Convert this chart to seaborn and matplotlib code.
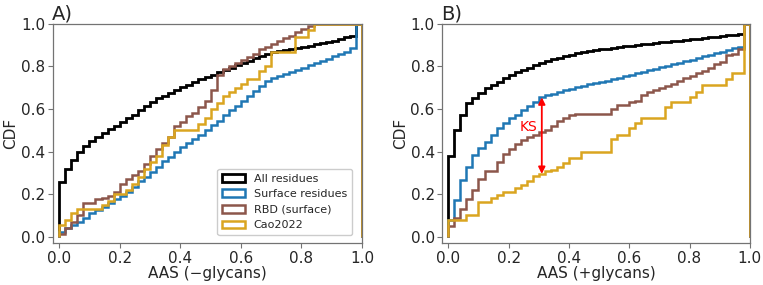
import numpy as np
import matplotlib
matplotlib.use('Agg')
import matplotlib.pyplot as plt
import seaborn as sns

# cumulative fraction at the right edge of each 0.02-wide AAS bin
labels = ['All residues', 'Surface residues', 'RBD (surface)', 'Cao2022']
colors = ['black', '#1f77b4', '#8c564b', '#daa520']

# A) without glycans
a_all = [0.256, 0.318, 0.361, 0.40, 0.426, 0.451, 0.47, 0.486, 0.505, 0.52,
         0.541, 0.557, 0.572, 0.596, 0.614, 0.635, 0.65, 0.663, 0.676, 0.69,
         0.703, 0.715, 0.727, 0.739, 0.75, 0.762, 0.775, 0.785, 0.795, 0.805,
         0.815, 0.825, 0.838, 0.85, 0.86, 0.866, 0.871, 0.876, 0.881, 0.886,
         0.892, 0.898, 0.904, 0.91, 0.916, 0.922, 0.93, 0.937, 0.945, 1.0]
a_surface = [0.02, 0.04, 0.055, 0.07, 0.09, 0.11, 0.125, 0.14, 0.16, 0.175,
             0.19, 0.21, 0.235, 0.26, 0.28, 0.305, 0.33, 0.355, 0.375, 0.40,
             0.42, 0.44, 0.46, 0.48, 0.50, 0.525, 0.545, 0.57, 0.595, 0.615,
             0.64, 0.66, 0.685, 0.71, 0.73, 0.745, 0.755, 0.765, 0.775, 0.785,
             0.795, 0.805, 0.815, 0.825, 0.835, 0.85, 0.86, 0.87, 0.885, 1.0]
a_rbd = [0.015, 0.04, 0.07, 0.10, 0.16, 0.16, 0.175, 0.18, 0.19, 0.21,
         0.25, 0.27, 0.29, 0.31, 0.34, 0.38, 0.41, 0.44, 0.47, 0.52,
         0.54, 0.565, 0.58, 0.61, 0.64, 0.69, 0.76, 0.79, 0.80, 0.815,
         0.83, 0.845, 0.86, 0.88, 0.89, 0.905, 0.92, 0.935, 0.945, 0.96,
         0.975, 0.99, 1.0, 1.0, 1.0, 1.0, 1.0, 1.0, 1.0, 1.0]
a_cao = [0.055, 0.08, 0.11, 0.13, 0.13, 0.13, 0.13, 0.15, 0.17, 0.20,
         0.20, 0.22, 0.25, 0.28, 0.32, 0.35, 0.38, 0.43, 0.47, 0.50,
         0.50, 0.50, 0.50, 0.53, 0.56, 0.60, 0.63, 0.66, 0.68, 0.70,
         0.72, 0.74, 0.74, 0.78, 0.80, 0.87, 0.87, 0.87, 0.87, 0.94,
         0.94, 0.97, 1.0, 1.0, 1.0, 1.0, 1.0, 1.0, 1.0, 1.0]

# B) with glycans
b_all = [0.38, 0.50, 0.572, 0.627, 0.65, 0.677, 0.697, 0.713, 0.729, 0.745,
         0.76, 0.776, 0.784, 0.795, 0.807, 0.818, 0.828, 0.835, 0.842, 0.849,
         0.856, 0.862, 0.867, 0.872, 0.876, 0.88, 0.884, 0.888, 0.892, 0.895,
         0.898, 0.901, 0.904, 0.907, 0.91, 0.913, 0.916, 0.919, 0.922, 0.925,
         0.928, 0.931, 0.934, 0.937, 0.94, 0.943, 0.946, 0.949, 0.952, 1.0]
b_surface = [0.08, 0.172, 0.266, 0.33, 0.384, 0.415, 0.447, 0.478, 0.51, 0.533,
             0.556, 0.572, 0.595, 0.615, 0.635, 0.655, 0.665, 0.672, 0.68, 0.688,
             0.695, 0.702, 0.709, 0.716, 0.722, 0.728, 0.734, 0.741, 0.748, 0.755,
             0.762, 0.769, 0.776, 0.783, 0.79, 0.797, 0.804, 0.811, 0.818, 0.825,
             0.832, 0.84, 0.848, 0.856, 0.863, 0.87, 0.878, 0.886, 0.893, 1.0]
b_rbd = [0.05, 0.086, 0.13, 0.175, 0.22, 0.27, 0.31, 0.31, 0.35, 0.39,
         0.41, 0.435, 0.455, 0.47, 0.48, 0.49, 0.50, 0.52, 0.545, 0.56,
         0.57, 0.575, 0.575, 0.575, 0.575, 0.575, 0.575, 0.60, 0.62, 0.62,
         0.635, 0.64, 0.665, 0.68, 0.69, 0.70, 0.71, 0.72, 0.73, 0.745,
         0.755, 0.77, 0.78, 0.795, 0.81, 0.82, 0.855, 0.86, 0.88, 1.0]
b_cao = [0.078, 0.078, 0.078, 0.10, 0.10, 0.165, 0.165, 0.18, 0.196, 0.21,
         0.21, 0.227, 0.243, 0.26, 0.285, 0.295, 0.31, 0.315, 0.33, 0.345,
         0.37, 0.37, 0.40, 0.40, 0.40, 0.40, 0.40, 0.46, 0.48, 0.48,
         0.51, 0.533, 0.556, 0.556, 0.556, 0.556, 0.61, 0.635, 0.635, 0.635,
         0.658, 0.68, 0.713, 0.713, 0.713, 0.713, 0.74, 0.768, 0.768, 1.0]

panels = [('A)', 'AAS (\u2212glycans)', [a_all, a_surface, a_rbd, a_cao]),
          ('B)', 'AAS (+glycans)', [b_all, b_surface, b_rbd, b_cao])]

edges = np.linspace(0, 1, 51)
centers = (edges[:-1] + edges[1:]) / 2

sns.set_style('ticks')
plt.rcParams['font.family'] = ['DejaVu Sans']

fig = plt.figure(figsize=(7.63, 2.85), dpi=100)
axes = [fig.add_axes([0.0695, 0.147, 0.405, 0.769]),
        fig.add_axes([0.5797, 0.147, 0.403, 0.769])]

for ax, (title, xlabel, series) in zip(axes, panels):
    for cdf, lab, col in zip(series, labels, colors):
        w = np.diff(np.concatenate([[0], cdf]))
        ax.hist(centers, bins=edges, weights=w, cumulative=True, histtype='step',
                color=col, lw=2.0 if col == 'black' else 1.8, label=lab)
    ax.set_xlim(-0.02, 1.0)
    ax.set_ylim(-0.03, 1.0)
    ax.set_xticks(np.arange(0, 1.01, 0.2))
    ax.set_yticks(np.arange(0, 1.01, 0.2))
    ax.tick_params(labelsize=11, color='0.45', length=3.5, pad=2)
    for s in ax.spines.values():
        s.set_color('0.45')
        s.set_linewidth(0.9)
    ax.set_xlabel(xlabel, fontsize=11, labelpad=0)
    ax.set_ylabel('CDF', fontsize=11, labelpad=2)
    ax.set_title(title, loc='left', fontsize=14, pad=1, x=-0.005)

axes[0].legend(loc='lower right', fontsize=8, handlelength=2, borderpad=0.45,
               labelspacing=0.5, framealpha=1, edgecolor='0.8',
               bbox_to_anchor=(0.985, 0.01))

# KS arrow between surface residues and Cao2022 in panel B
diff = np.array(b_surface) - np.array(b_cao)
k = int(np.argmax(diff))
axes[1].annotate('', xy=(centers[k], b_surface[k]), xytext=(centers[k], b_cao[k]),
                 arrowprops=dict(arrowstyle='<|-|>', color='red', lw=1.3, mutation_scale=10,
                                 shrinkA=0, shrinkB=0))
axes[1].text(centers[k] - 0.015, (b_surface[k] + b_cao[k]) / 2 + 0.04, 'KS', color='red',
             fontsize=10, ha='right', va='center')

fig.savefig('out.png', dpi=100)
